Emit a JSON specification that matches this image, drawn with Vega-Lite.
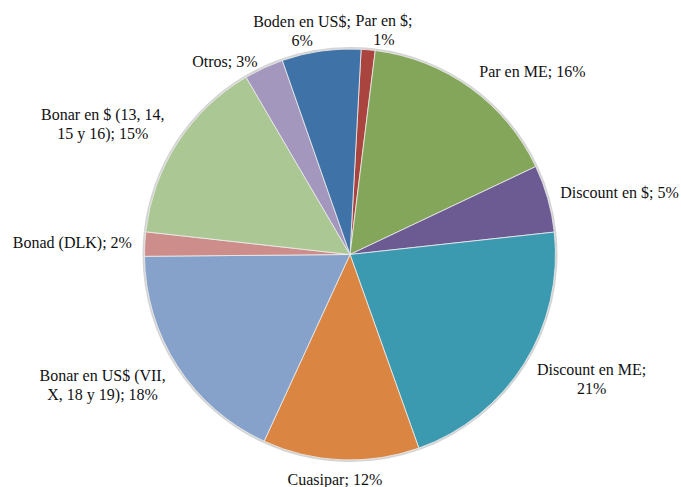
{
  "$schema": "https://vega.github.io/schema/vega-lite/v6.json",
  "width": 662,
  "height": 465,
  "autosize": {"type": "none"},
  "padding": {"left": 19, "top": 22, "right": 0, "bottom": 0},
  "background": "white",
  "config": {"view": {"stroke": null}, "text": {"font": "'Times New Roman', 'Liberation Serif', 'DejaVu Serif', serif"}},
  "data": {
    "values": [
      {"cat": "Par en $", "v": 1.1, "orden": 1, "label": "Par en $;\n1%"},
      {"cat": "Par en ME", "v": 16.0, "orden": 2, "label": "Par en ME; 16%"},
      {"cat": "Discount en $", "v": 5.3, "orden": 3, "label": "Discount en $; 5%"},
      {"cat": "Discount en ME", "v": 21.3, "orden": 4, "label": "Discount en ME;\n21%"},
      {"cat": "Cuasipar", "v": 12.3, "orden": 5, "label": "Cuasipar; 12%"},
      {"cat": "Bonar en US$ (VII, X, 18 y 19)", "v": 18.0, "orden": 6, "label": "Bonar en US$ (VII,\nX, 18 y 19); 18%"},
      {"cat": "Bonad (DLK)", "v": 1.9, "orden": 7, "label": "Bonad (DLK); 2%"},
      {"cat": "Bonar en $ (13, 14, 15 y 16)", "v": 14.8, "orden": 8, "label": "Bonar en $ (13, 14,\n15 y 16); 15%"},
      {"cat": "Otros", "v": 3.1, "orden": 9, "label": "Otros; 3%"},
      {"cat": "Boden en US$", "v": 6.2, "orden": 10, "label": "Boden en US$;\n6%"}
    ]
  },
  "encoding": {
    "theta": {"field": "v", "type": "quantitative", "stack": true, "scale": {"range": [0.0541, 6.3373]}},
    "order": {"field": "orden", "type": "quantitative"}
  },
  "layer": [
    {"mark": {"type": "arc", "radius": 207.5, "fill": "#d4d4d4"}},
    {
      "mark": {"type": "arc", "radius": 205.5, "stroke": "#eeeeee", "strokeWidth": 0.8},
      "encoding": {
        "color": {
          "field": "cat", "type": "nominal", "legend": null,
          "scale": {
            "domain": ["Par en $", "Par en ME", "Discount en $", "Discount en ME", "Cuasipar", "Bonar en US$ (VII, X, 18 y 19)", "Bonad (DLK)", "Bonar en $ (13, 14, 15 y 16)", "Otros", "Boden en US$"],
            "range": ["#A9443F", "#84A65A", "#6C5A92", "#3C9AB0", "#DA8542", "#87A2CA", "#CD8D8B", "#ABC794", "#A397BD", "#3F72A7"]
          }
        }
      }
    },
    {"mark": {"type": "text", "radius": 226, "dx": 14, "dy": -8, "fontSize": 16, "lineBreak": "\n", "lineHeight": 19, "align": "center", "baseline": "middle", "color": "#111"},
     "encoding": {"text": {"condition": {"test": "datum.cat === 'Par en $'", "field": "label"}, "value": ""}}},
    {"mark": {"type": "text", "radius": 255, "dx": 33, "dy": 24, "fontSize": 16, "lineBreak": "\n", "lineHeight": 19, "align": "center", "baseline": "middle", "color": "#111"},
     "encoding": {"text": {"condition": {"test": "datum.cat === 'Par en ME'", "field": "label"}, "value": ""}}},
    {"mark": {"type": "text", "radius": 276, "dx": 4, "dy": 14, "fontSize": 16, "lineBreak": "\n", "lineHeight": 19, "align": "center", "baseline": "middle", "color": "#111"},
     "encoding": {"text": {"condition": {"test": "datum.cat === 'Discount en $'", "field": "label"}, "value": ""}}},
    {"mark": {"type": "text", "radius": 271, "dx": 12, "dy": -28, "fontSize": 16, "lineBreak": "\n", "lineHeight": 19, "align": "center", "baseline": "middle", "color": "#111"},
     "encoding": {"text": {"condition": {"test": "datum.cat === 'Discount en ME'", "field": "label"}, "value": ""}}},
    {"mark": {"type": "text", "radius": 226, "dx": -5, "dy": 0, "fontSize": 16, "lineBreak": "\n", "lineHeight": 19, "align": "center", "baseline": "middle", "color": "#111"},
     "encoding": {"text": {"condition": {"test": "datum.cat === 'Cuasipar'", "field": "label"}, "value": ""}}},
    {"mark": {"type": "text", "radius": 278, "dx": -14, "dy": -30, "fontSize": 16, "lineBreak": "\n", "lineHeight": 19, "align": "center", "baseline": "middle", "color": "#111"},
     "encoding": {"text": {"condition": {"test": "datum.cat === 'Bonar en US$ (VII, X, 18 y 19)'", "field": "label"}, "value": ""}}},
    {"mark": {"type": "text", "radius": 278, "dx": 0, "dy": 3, "fontSize": 16, "lineBreak": "\n", "lineHeight": 19, "align": "center", "baseline": "middle", "color": "#111"},
     "encoding": {"text": {"condition": {"test": "datum.cat === 'Bonad (DLK)'", "field": "label"}, "value": ""}}},
    {"mark": {"type": "text", "radius": 278, "dx": -14, "dy": 12, "fontSize": 16, "lineBreak": "\n", "lineHeight": 19, "align": "center", "baseline": "middle", "color": "#111"},
     "encoding": {"text": {"condition": {"test": "datum.cat === 'Bonar en $ (13, 14, 15 y 16)'", "field": "label"}, "value": ""}}},
    {"mark": {"type": "text", "radius": 227, "dx": -30, "dy": 14, "fontSize": 16, "lineBreak": "\n", "lineHeight": 19, "align": "center", "baseline": "middle", "color": "#111"},
     "encoding": {"text": {"condition": {"test": "datum.cat === 'Otros'", "field": "label"}, "value": ""}}},
    {"mark": {"type": "text", "radius": 228, "dx": -16, "dy": -7, "fontSize": 16, "lineBreak": "\n", "lineHeight": 19, "align": "center", "baseline": "middle", "color": "#111"},
     "encoding": {"text": {"condition": {"test": "datum.cat === 'Boden en US$'", "field": "label"}, "value": ""}}}
  ]
}
